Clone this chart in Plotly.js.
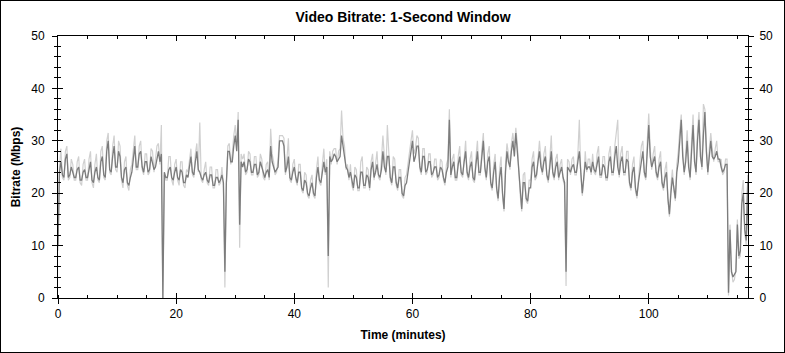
<!DOCTYPE html>
<html>
<head>
<meta charset="utf-8">
<script src="https://cdn.plot.ly/plotly-3.0.1.min.js"></script>
<style>
  html, body { margin: 0; padding: 0; background: #fff; }
  #wrap { position: relative; width: 785px; height: 353px; }
  #chart { position: absolute; left: 0; top: 0; width: 785px; height: 353px; }
  #frame { position: absolute; left: 0; top: 0; width: 785px; height: 353px; box-sizing: border-box; border: 1px solid #000; pointer-events: none; }
</style>
</head>
<body>
<div id="wrap"><div id="chart"></div><div id="frame"></div></div>
<script>
// Sampling step of the series (minutes)
const STEP_MIN = 0.25;

// Video bitrate (Mbps), dark series, one value every 0.25 min from 0 to 117 (rows = 5 minutes)
const bitrateDark = [
  10, 24, 26, 23.5, 23, 26.5, 27.5, 23, 23.5, 25, 24, 23, 23, 24.5, 25, 22.5, 22.5, 24, 24.5, 23,
  23, 25, 26, 22.5, 22, 24, 25, 23, 22.5, 26, 27, 23.5, 23, 28, 30, 24.5, 24, 27, 29, 25,
  25, 28, 27, 23, 22, 24.5, 25, 22, 21.5, 23, 24, 26.5, 29, 25, 25, 27.5, 28, 25, 24, 26,
  26, 24, 24.5, 27, 26, 24.5, 25, 27, 28, 26, 27.5, 0, 24, 23, 23, 24.5, 25, 23, 22.5, 24,
  25, 23, 22.5, 24.5, 24, 22, 22, 23.5, 23, 25, 27, 24, 23.5, 26, 28, 24.5, 24, 23, 22.5, 23.5,
  24, 22.5, 22, 23.5, 23.5, 21.5, 21.5, 23, 23, 22, 22.5, 23.5, 22, 5, 22, 28, 28, 26, 26, 29,
  31, 28, 34, 14, 26, 25, 26, 24, 24.5, 26.5, 26, 24, 24, 25.5, 25.5, 23.5, 24, 26, 25, 23.5,
  23, 24, 24.5, 23, 29, 26, 25, 24, 24.5, 25, 30, 30, 30, 29, 24, 25, 27, 23, 22.5, 24,
  25, 23, 22, 24, 24, 21, 20.5, 22.5, 22, 20, 19.5, 21, 22, 20, 19.5, 23, 25, 22.5, 22, 24,
  26, 24, 25, 8, 27, 26, 26.5, 27.5, 27, 26, 26.5, 27, 31, 29, 28, 25, 24.5, 23, 24, 22,
  21, 23.5, 23, 21, 21, 24, 24, 21.5, 21.5, 23.5, 23, 21, 24.5, 26, 23, 24, 25.5, 23.5, 23, 24.5,
  28, 25, 24, 27, 27, 23, 22, 25, 25, 22, 21, 23, 23, 20, 19.5, 21.5, 22, 24, 26, 28,
  30, 26, 27, 29, 29, 25, 24, 27, 27, 24, 24.5, 26, 26, 23.5, 24, 25, 25, 23, 23.5, 25,
  24.5, 23, 22, 24, 25, 34, 23.5, 25, 26, 23, 23, 25.5, 27, 24, 23.5, 26, 28, 24, 23, 25,
  26, 23, 22.5, 25.5, 28, 24, 24, 27, 30, 25, 23, 26, 27, 22, 21, 24, 26, 21, 19, 23,
  25, 20, 17, 24, 28, 26, 25, 28, 30, 27, 31.5, 28, 24, 20, 17, 22, 22, 19, 18.5, 21,
  21, 25, 26, 23, 23.5, 26, 28, 25, 24, 26, 27, 23.5, 22.5, 25, 28, 24, 23, 25, 26, 23,
  24, 25, 23, 22, 5, 25, 24.5, 24, 25, 25.5, 24, 24, 26, 28, 24, 20, 23, 26, 24.5, 25,
  25, 24, 26, 24.5, 24, 26, 27, 23.5, 23.5, 25.5, 25, 23, 23, 26, 27, 24, 24, 27, 29, 25,
  23.5, 26, 27, 24, 24, 26.5, 26, 22, 21, 24, 25, 21, 19.5, 22, 24, 27, 28, 24, 23, 28,
  33, 27, 25, 26, 27, 24, 23, 25, 26, 22, 21, 23, 24, 19, 16, 20, 23, 21, 19, 24,
  26, 30, 34, 27, 24, 26, 30, 25, 23, 28, 33, 26, 24, 30, 34, 27, 25, 31, 35.5, 28,
  24, 27, 30, 27, 26.5, 27, 28, 26.5, 26.5, 25, 24, 24.5, 25.5, 25.5, 1, 13, 5, 4, 4.5, 5,
  14, 8, 9, 18, 20, 13, 11, 22, 5
];

// Light (peak) series, same sampling
const bitrateLight = [
  9, 25, 28.5, 23, 22.5, 28, 29, 22.5, 23, 26.5, 25.5, 22.5, 22.5, 26, 27, 22, 21.5, 25.5, 26.5, 22.5,
  22.5, 26.5, 28, 22, 21, 25.5, 27.5, 22.5, 22, 28, 29, 23, 22.5, 30, 31.5, 24, 23.5, 29, 31, 24.5,
  24, 30, 29, 22.5, 21, 26, 27, 21.5, 20.5, 24.5, 25.5, 28, 31, 24.5, 24.5, 29, 30, 24.5, 23.5, 27.5,
  27.5, 23.5, 24, 28.5, 28, 24, 26, 29, 29.5, 25.5, 33, 0, 23.5, 22.5, 22.5, 27, 27, 22.5, 21.5, 25.5,
  26.5, 22.5, 21.5, 26, 26, 21.5, 21, 24.5, 24, 26.5, 28.5, 23.5, 23, 27.5, 29.5, 24, 33.5, 22.5, 22, 24.5,
  26, 22, 21.5, 25, 25, 21, 21, 24.5, 24.5, 21.5, 22, 25, 21.5, 2, 21.5, 29, 29.5, 25.5, 27.5, 31,
  33, 29, 35.5, 9.6, 27.5, 26.5, 27.5, 23.5, 24, 28, 27.5, 23.5, 23.5, 27, 27, 23, 23.5, 27.5, 26.5, 23,
  22.5, 25.5, 26, 22.5, 32.3, 27.5, 26, 23.5, 24, 26.5, 31, 31, 31, 30.5, 23.5, 26.5, 30.5, 22.5, 22, 25.5,
  26.5, 22.5, 21.5, 25.5, 25.5, 20.5, 20, 24, 23.5, 19.5, 19, 22.5, 23.5, 19.5, 19, 24.5, 27, 22, 21.5, 25.5,
  28.5, 23.5, 26.5, 2, 28, 25.5, 28, 28.5, 28.5, 25.5, 28, 28.5, 35.8, 30.5, 29, 24.5, 25.5, 22.5, 25.5, 21.5,
  20.5, 25, 24.5, 20.5, 20.5, 26, 27, 21, 21, 25, 24.5, 20.5, 26, 27.5, 22.5, 25.5, 28, 23, 22.5, 26.5,
  31, 27, 23.5, 33, 28.5, 22.5, 21.5, 27, 26.5, 21.5, 20.5, 24.5, 24.5, 19.5, 19, 23, 23.5, 26, 28, 30,
  32, 27.5, 28.5, 31, 30.5, 24.5, 23.5, 28.5, 28.5, 23.5, 24, 27.5, 27.5, 23, 23.5, 26.5, 26.5, 22.5, 23, 26.5,
  26, 22.5, 21.5, 25.5, 26.5, 36, 23, 26.5, 27.5, 22.5, 22.5, 27, 29, 23.5, 23, 27.5, 30, 23.5, 22.5, 26.5,
  28, 22.5, 22, 27, 30, 23.5, 23.5, 28.5, 31.5, 24.5, 22.5, 27.5, 29, 21.5, 20.5, 25.5, 27.5, 20.5, 18.5, 24.5,
  27, 19.5, 16.5, 25.5, 29.5, 27.5, 24.5, 29.5, 31.5, 28.5, 32.5, 29.5, 23.5, 19.5, 16.5, 23.5, 24, 18.5, 18, 22.5,
  22.5, 26.5, 28, 22.5, 23, 27.5, 30, 26.5, 23.5, 27.5, 29, 23, 22, 26.5, 31, 23.5, 22.5, 26.5, 27.5, 22.5,
  25.5, 26.5, 22.5, 21.5, 2.3, 26.5, 26, 23.5, 26.5, 27, 23.5, 23.5, 27.5, 34, 23.5, 19.5, 22.5, 28, 24, 26.5,
  26.5, 23.5, 27.5, 24, 23.5, 27.5, 29, 23, 23, 27, 27, 22.5, 22.5, 27.5, 29, 23.5, 23.5, 29, 31, 34,
  23, 27.5, 29, 23.5, 23.5, 28, 28, 21.5, 20.5, 25.5, 27, 20.5, 19, 23.5, 26, 29, 30, 23.5, 22.5, 30,
  35.2, 28.5, 24.5, 27.5, 29, 23.5, 22.5, 26.5, 28, 21.5, 20.5, 24.5, 26, 18.5, 15.5, 21.5, 24.5, 20.5, 18.5, 25.5,
  28, 32, 35, 28.5, 23.5, 27.5, 32, 26.5, 22.5, 30, 35, 27.5, 23.5, 32, 35.5, 28.5, 24.5, 37, 36, 29.5,
  23.5, 28.5, 31.5, 28.5, 26, 28.5, 30, 26, 26, 26.5, 23.5, 24, 26.5, 26.5, 0.5, 14, 5.5, 3, 3.5, 5.5,
  15, 7.5, 8, 20, 22.5, 12.5, 10, 23.5, 4.5
];

const xTickVals = [0, 20, 40, 60, 80, 100];
const yTickVals = [0, 10, 20, 30, 40, 50];
const titleText = 'Video Bitrate: 1-Second Window';
const xTitle = 'Time (minutes)';
const yTitle = 'Bitrate (Mbps)';

const timeMin = bitrateDark.map((_, i) => i * STEP_MIN);

const XR = [0, 116.8];
const YR = [0, 50];
const FONT = 'Liberation Sans, Arial, sans-serif';

const traces = [
  { x: timeMin, y: bitrateLight, type: 'scatter', mode: 'lines',
    line: { color: '#d0d0d0', width: 1.2 }, hoverinfo: 'skip', showlegend: false },
  { x: timeMin, y: bitrateDark, type: 'scatter', mode: 'lines',
    line: { color: '#7c7c7c', width: 1.3 }, hoverinfo: 'skip', showlegend: false },
  { x: [], y: [], xaxis: 'x2', yaxis: 'y', type: 'scatter', mode: 'lines', showlegend: false },
  { x: [], y: [], xaxis: 'x3', yaxis: 'y', type: 'scatter', mode: 'lines', showlegend: false },
  { x: [], y: [], xaxis: 'x', yaxis: 'y2', type: 'scatter', mode: 'lines', showlegend: false },
  { x: [], y: [], xaxis: 'x', yaxis: 'y3', type: 'scatter', mode: 'lines', showlegend: false },
  { x: [], y: [], xaxis: 'x', yaxis: 'y4', type: 'scatter', mode: 'lines', showlegend: false }
];

const tickFont = { family: FONT, size: 12, color: '#000' };
const baseX = {
  range: XR, autorange: false, showgrid: false, zeroline: false,
  tickmode: 'array', tickvals: xTickVals, tickcolor: '#000', tickwidth: 1
};
const baseY = {
  range: YR, autorange: false, showgrid: false, zeroline: false,
  tickmode: 'array', tickvals: yTickVals, tickcolor: '#000', tickwidth: 1
};

const layout = {
  width: 785, height: 353,
  margin: { l: 58, r: 37, t: 36, b: 55, pad: 0 },
  paper_bgcolor: '#fff', plot_bgcolor: '#fff',
  showlegend: false,
  title: { text: '<b>' + titleText + '</b>', font: { family: FONT, size: 14, color: '#000' },
           x: 0.5, xanchor: 'center', xref: 'paper', y: 1 - 17 / 353, yref: 'container', yanchor: 'middle' },
  xaxis: Object.assign({}, baseX, {
    side: 'bottom', anchor: 'y', ticks: 'outside', ticklen: 5,
    showline: true, linecolor: '#000', linewidth: 1, mirror: false,
    tickfont: tickFont,
    minor: { dtick: 5, tick0: 0, ticks: 'inside', ticklen: 3, tickcolor: '#000', tickwidth: 1, showgrid: false },
    title: { text: '<b>' + xTitle + '</b>', font: { family: FONT, size: 12, color: '#000' }, standoff: 10 }
  }),
  xaxis2: Object.assign({}, baseX, {
    overlaying: 'x', side: 'bottom', anchor: 'y', ticks: 'inside', ticklen: 5,
    showline: false, showticklabels: false
  }),
  xaxis3: Object.assign({}, baseX, {
    overlaying: 'x', side: 'top', anchor: 'y', ticks: 'inside', ticklen: 5,
    showline: true, linecolor: '#000', linewidth: 1, showticklabels: false,
    minor: { dtick: 5, tick0: 0, ticks: 'inside', ticklen: 3, tickcolor: '#000', tickwidth: 1, showgrid: false }
  }),
  yaxis: Object.assign({}, baseY, {
    side: 'left', anchor: 'x', ticks: 'outside', ticklen: 5,
    showline: true, linecolor: '#000', linewidth: 1,
    tickfont: tickFont, ticklabelstandoff: 5,
    minor: { dtick: 2, tick0: 0, ticks: 'outside', ticklen: 3, tickcolor: '#000', tickwidth: 1, showgrid: false },
    title: { text: '<b>' + yTitle + '</b>', font: { family: FONT, size: 12, color: '#000' }, standoff: 8 }
  }),
  yaxis2: Object.assign({}, baseY, {
    overlaying: 'y', side: 'left', anchor: 'x', ticks: 'inside', ticklen: 5,
    showline: false, showticklabels: false,
    minor: { dtick: 2, tick0: 0, ticks: 'inside', ticklen: 3, tickcolor: '#000', tickwidth: 1, showgrid: false }
  }),
  yaxis3: Object.assign({}, baseY, {
    overlaying: 'y', side: 'right', anchor: 'x', ticks: 'outside', ticklen: 5,
    showline: true, linecolor: '#000', linewidth: 1,
    tickfont: tickFont, ticklabelstandoff: 3,
    minor: { dtick: 2, tick0: 0, ticks: 'outside', ticklen: 3, tickcolor: '#000', tickwidth: 1, showgrid: false }
  }),
  yaxis4: Object.assign({}, baseY, {
    overlaying: 'y', side: 'right', anchor: 'x', ticks: 'inside', ticklen: 5,
    showline: false, showticklabels: false,
    minor: { dtick: 2, tick0: 0, ticks: 'inside', ticklen: 3, tickcolor: '#000', tickwidth: 1, showgrid: false }
  })
};

Plotly.newPlot('chart', traces, layout, { staticPlot: true, displayModeBar: false });
</script>
</body>
</html>
